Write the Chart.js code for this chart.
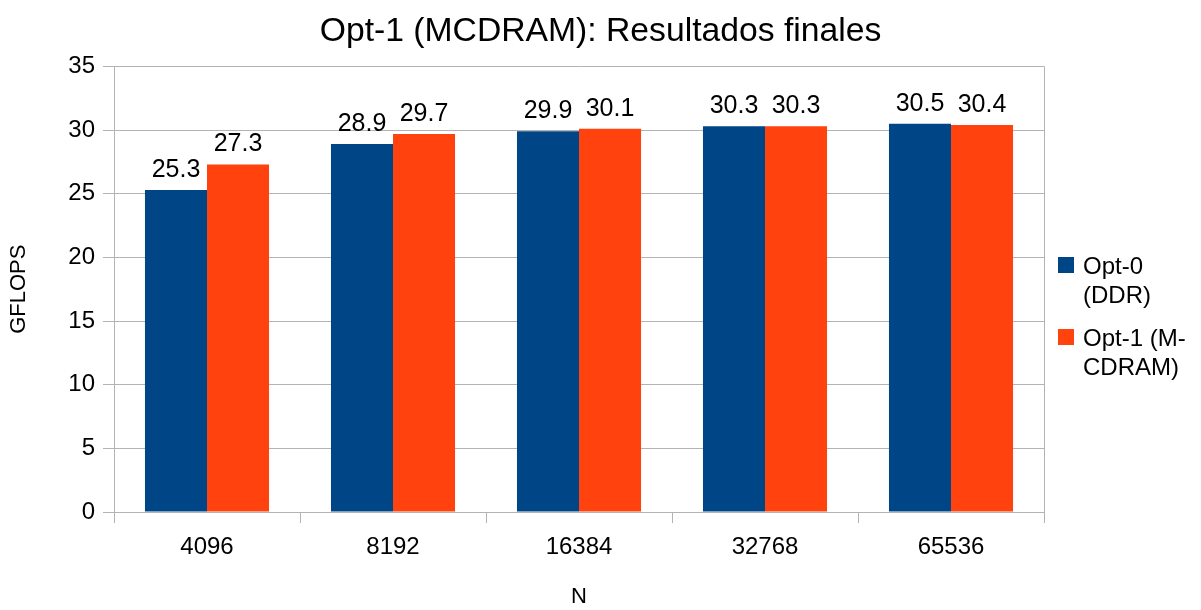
<!DOCTYPE html>
<html>
<head>
<meta charset="utf-8">
<script src="https://cdn.jsdelivr.net/npm/chart.js@4/dist/chart.umd.min.js"></script>
<style>
  html, body { margin: 0; padding: 0; background: #fff; }
  #wrap { width: 1201px; height: 610px; }
</style>
</head>
<body>
<div id="wrap"><canvas id="chart" width="1201" height="610"></canvas></div>
<script>
// datos
const categories = ["4096", "8192", "16384", "32768", "65536"];
const opt0Values = [25.3, 28.9, 29.9, 30.3, 30.5];
const opt1Values = [27.3, 29.7, 30.1, 30.3, 30.4];
const seriesNames = ["Opt-0 (DDR)", "Opt-1 (MCDRAM)"];
const legendLines = [["Opt-0", "(DDR)"], ["Opt-1 (M-", "CDRAM)"]];
const seriesColors = ["#004586", "#ff420e"];

const FONT = "'Liberation Sans', Arial, sans-serif";
const GRID = "#b3b3b3";

// etiquetas encima de cada barra
const valueLabels = {
    id: "valueLabels",
    afterDatasetsDraw(chart) {
        const ctx = chart.ctx;
        ctx.save();
        ctx.font = "25px " + FONT;
        ctx.fillStyle = "#000";
        ctx.textAlign = "center";
        ctx.textBaseline = "alphabetic";
        chart.data.datasets.forEach((ds, i) => {
            chart.getDatasetMeta(i).data.forEach((bar, j) => {
                ctx.fillText(ds.data[j].toFixed(1), bar.x, bar.y - 13);
            });
        });
        ctx.restore();
    }
};

// borde derecho y leyenda a la derecha
const sideLegend = {
    id: "sideLegend",
    afterDraw(chart) {
        const ctx = chart.ctx;
        const area = chart.chartArea;
        ctx.save();
        ctx.strokeStyle = GRID;
        ctx.lineWidth = 1;
        ctx.beginPath();
        ctx.moveTo(area.right + 0.5, area.top);
        ctx.lineTo(area.right + 0.5, area.bottom);
        ctx.stroke();

        const x = area.right + 14;
        let y = 274;
        ctx.font = "24px " + FONT;
        ctx.textAlign = "left";
        ctx.textBaseline = "alphabetic";
        legendLines.forEach((lines, i) => {
            ctx.fillStyle = seriesColors[i];
            ctx.fillRect(x, y - 17, 16, 16);
            ctx.fillStyle = "#000";
            lines.forEach((t, k) => ctx.fillText(t, x + 25, y + k * 29));
            y += lines.length * 29 + 14;
        });
        ctx.restore();
    }
};

new Chart(document.getElementById("chart"), {
    type: "bar",
    data: {
        labels: categories,
        datasets: [
            { label: seriesNames[0], data: opt0Values, backgroundColor: seriesColors[0] },
            { label: seriesNames[1], data: opt1Values, backgroundColor: seriesColors[1] }
        ]
    },
    options: {
        responsive: false,
        animation: false,
        layout: { padding: { left: 0, right: 0, top: 0, bottom: 0 } },
        datasets: { bar: { categoryPercentage: 0.667, barPercentage: 1.0 } },
        plugins: {
            legend: { display: false },
            tooltip: { enabled: false },
            title: {
                display: true,
                text: "Opt-1 (MCDRAM): Resultados finales",
                color: "#000",
                font: { family: FONT, size: 33.7, weight: "normal" },
                padding: { top: 11, bottom: 15 }
            }
        },
        scales: {
            x: {
                grid: { drawOnChartArea: false, color: GRID, tickLength: 11 },
                border: { color: GRID },
                ticks: { color: "#000", font: { family: FONT, size: 24 }, padding: 10, maxRotation: 0 },
                title: { display: true, text: "N", color: "#000", font: { family: FONT, size: 22 }, padding: 0 },
                afterFit(s) { s.height = 98; }
            },
            y: {
                min: 0,
                max: 35,
                ticks: { stepSize: 5, color: "#000", font: { family: FONT, size: 24 }, padding: 8 },
                grid: { color: GRID, tickLength: 11 },
                border: { color: GRID },
                title: { display: true, text: "GFLOPS", color: "#000", font: { family: FONT, size: 22 }, padding: { top: 6, bottom: 0 } },
                afterFit(s) { s.width = 114; }
            },
            // hueco a la derecha para la leyenda
            legendSpace: {
                position: "right",
                min: 0,
                max: 35,
                ticks: { display: false },
                grid: { display: false },
                border: { display: false },
                afterFit(s) { s.width = 157; }
            }
        }
    },
    plugins: [valueLabels, sideLegend]
});
</script>
</body>
</html>
